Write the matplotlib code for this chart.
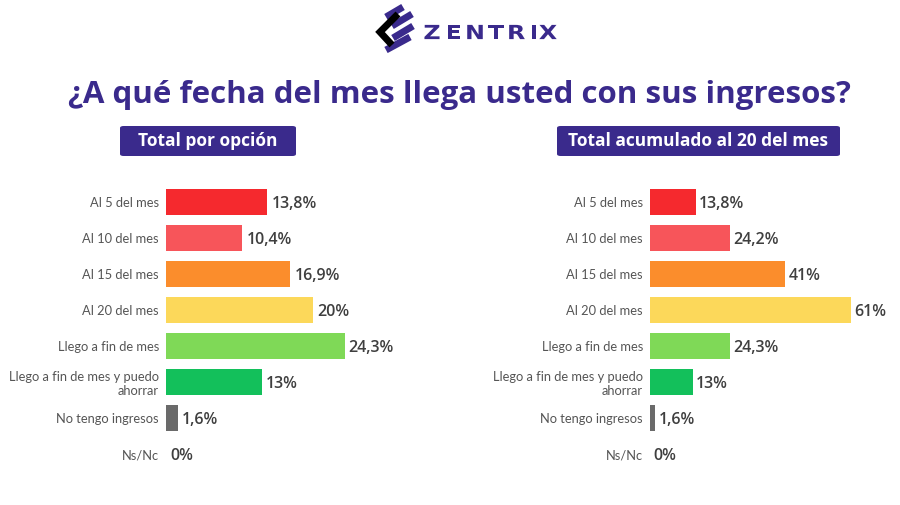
import matplotlib
matplotlib.use("Agg")
import matplotlib.pyplot as plt
from matplotlib.patches import FancyBboxPatch, PathPatch
from matplotlib.textpath import TextPath
from matplotlib.font_manager import FontProperties
from matplotlib.transforms import Affine2D

# Data
categories = ["Al 5 del mes", "Al 10 del mes", "Al 15 del mes", "Al 20 del mes",
              "Llego a fin de mes", "Llego a fin de mes y puedo\nahorrar",
              "No tengo ingresos", "Ns/Nc"]
total_opcion = [13.8, 10.4, 16.9, 20.0, 24.3, 13.0, 1.6, 0.0]
total_acumulado = [13.8, 24.2, 41.0, 61.0, 24.3, 13.0, 1.6, 0.0]
labels_opcion = ["13,8%", "10,4%", "16,9%", "20%", "24,3%", "13%", "1,6%", "0%"]
labels_acumulado = ["13,8%", "24,2%", "41%", "61%", "24,3%", "13%", "1,6%", "0%"]
bar_colors = ["#f5292e", "#f7555a", "#fb8d2c", "#fcd85a", "#7fd957", "#13c05b", "#6a6a6a", "#6a6a6a"]

purple = "#3a2a8c"
label_grey = "#555555"
value_grey = "#3f3f3f"

fig = plt.figure(figsize=(9, 5.05), dpi=100)
fig.patch.set_facecolor("white")

# Title
fig.text(0.511, 1 - 95 / 505, "¿A qué fecha del mes llega usted con sus ingresos?",
         ha="center", va="center", fontsize=22.5, fontweight="bold",
         color=purple, family="Open Sans")

# Logo icon, drawn in pixel coordinates of its own small axes
logo_ax = fig.add_axes([374 / 900, 1 - 56 / 505, 44 / 900, 54 / 505])
logo_ax.set_xlim(374, 418)
logo_ax.set_ylim(56, 2)
logo_ax.axis("off")
stripes = [((386, 17), (403, 7)), ((392, 26), (412, 14)),
           ((393, 38), (413, 26)), ((386, 50), (410, 37))]
for (x0, y0), (x1, y1) in stripes:
    logo_ax.plot([x0, x1], [y0, y1], color=purple, lw=5, solid_capstyle="butt")
logo_ax.plot([398, 380, 392], [14, 32, 45], color="black", lw=5,
             solid_capstyle="butt", solid_joinstyle="miter")

# Wordmark: wide letters, stretched horizontally, in pixel coordinates
word_ax = fig.add_axes([418 / 900, 1 - 50 / 505, 146 / 900, 38 / 505])
word_ax.set_xlim(418, 564)
word_ax.set_ylim(505 - 50, 505 - 12)
word_ax.axis("off")
word_font = FontProperties(family="DejaVu Sans", weight="bold")
for letter, cx in zip("ZENTRIX", [432, 454, 475, 496, 517, 534, 548]):
    tp = TextPath((0, 0), letter, size=19.5, prop=word_font)
    ext = tp.get_extents()
    tr = (Affine2D().translate(-(ext.x0 + ext.x1) / 2, -(ext.y0 + ext.y1) / 2)
          .scale(1.22, 1.0).translate(cx, 505 - 32))
    word_ax.add_patch(PathPatch(tr.transform_path(tp), facecolor=purple,
                                edgecolor="none"))


def header_box(x0, x1, y0, y1, text):
    box = FancyBboxPatch((x0 / 900, 1 - y1 / 505), (x1 - x0) / 900, (y1 - y0) / 505,
                         boxstyle="round,pad=0,rounding_size=0.004",
                         transform=fig.transFigure, facecolor=purple,
                         edgecolor="none")
    fig.patches.append(box)
    fig.text((x0 + x1) / 1800, 1 - (y0 + y1) / 1010, text, ha="center", va="center",
             fontsize=12.5, fontweight="bold", color="white", family="Open Sans")


header_box(120, 296, 126, 156, "Total por opción")
header_box(557, 840, 126, 156, "Total acumulado al 20 del mes")


def draw_panel(rect, values, labels, xmax):
    ax = fig.add_axes(rect)
    y = list(range(len(categories)))
    ax.barh(y, values, height=0.72, color=bar_colors)
    for yi, v, lab in zip(y, values, labels):
        ax.text(v + xmax * 0.014, yi, lab, va="center_baseline", ha="left",
                fontsize=11.5, fontweight="semibold", color=value_grey,
                family="Open Sans")
    ax.set_yticks(y)
    ax.set_yticklabels(categories, fontsize=9.3, color=label_grey, family="Lato",
                       linespacing=1.2)
    ax.tick_params(axis="y", length=0, pad=5)
    ax.set_xticks([])
    ax.set_xlim(0, xmax)
    ax.set_ylim(len(categories) - 0.5, -0.5)
    for s in ax.spines.values():
        s.set_visible(False)
    return ax


bottom = 1 - 472 / 505
height = 288 / 505
draw_panel([166 / 900, bottom, 294 / 900, height], total_opcion, labels_opcion, 40)
draw_panel([650 / 900, bottom, 231 / 900, height], total_acumulado, labels_acumulado, 70)

fig.savefig("out.png", dpi=100, facecolor="white")
